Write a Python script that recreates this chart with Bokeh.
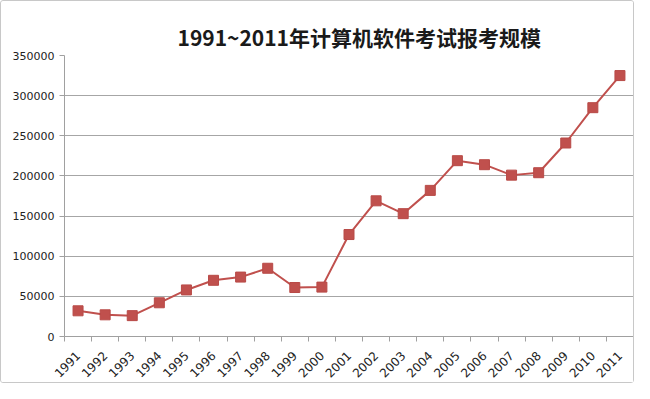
from bokeh.plotting import figure
from bokeh.models import FixedTicker, Range1d, ColumnDataSource
from bokeh.embed import file_html
from bokeh.resources import INLINE
import math

years = ["1991", "1992", "1993", "1994", "1995", "1996", "1997", "1998", "1999", "2000",
         "2001", "2002", "2003", "2004", "2005", "2006", "2007", "2008", "2009", "2010", "2011"]
counts = [32000, 27000, 26000, 42000, 58000, 70000, 74000, 85000, 61000, 61500,
          127000, 169000, 153000, 182000, 219000, 214000, 201000, 204000, 241000, 285000, 325000]
y_ticks = [0, 50000, 100000, 150000, 200000, 250000, 300000, 350000]

n = len(years)
xs = [i + 0.5 for i in range(n)]
src = ColumnDataSource(dict(x=xs, y=counts, year=years))

p = figure(width=634, height=383, output_backend="svg", toolbar_location=None,
           x_range=Range1d(0, n), y_range=Range1d(0, 350000),
           min_border_left=63, min_border_right=2, min_border_top=54, min_border_bottom=46)
p.title.text = "1991~2011年计算机软件考试报考规模"
p.title.text_font = "Noto Sans CJK SC"
p.title.text_font_size = "21px"
p.title.text_font_style = "bold"
p.title.align = "left"
p.title.offset = 113
p.title.standoff = 8
p.title.text_color = "#1a1a1a"

p.outline_line_color = None
p.background_fill_color = "white"
p.border_fill_color = "white"
p.styles = {"border": "1px solid #c8c8c8", "border-radius": "3px"}

p.line("x", "y", source=src, line_color="#C0504D", line_width=2)
p.scatter("x", "y", source=src, marker="square", size=10, fill_color="#C0504D",
          line_color="#B84A47")

# y axis
p.yaxis.ticker = FixedTicker(ticks=y_ticks)
p.yaxis.formatter.use_scientific = False
p.yaxis.axis_line_color = "#a0a0a0"
p.yaxis.major_tick_line_color = "#a0a0a0"
p.yaxis.major_tick_in = 0
p.yaxis.major_tick_out = 5
p.yaxis.minor_tick_line_color = None
p.yaxis.major_label_text_font = "DejaVu Sans"
p.yaxis.major_label_text_font_size = "11px"
p.yaxis.major_label_text_color = "#222222"
p.yaxis.major_label_standoff = 5

p.ygrid.ticker = FixedTicker(ticks=y_ticks)
p.ygrid.grid_line_color = "#a6a6a6"
p.xgrid.grid_line_color = None

# x axis: labels at centers, ticks at category boundaries
p.xaxis.ticker = FixedTicker(ticks=xs, minor_ticks=list(range(n + 1)))
p.xaxis.major_label_overrides = {x: y for x, y in zip(xs, years)}
p.xaxis.major_tick_line_color = None
p.xaxis.major_tick_out = 0
p.xaxis.major_tick_in = 0
p.xaxis.minor_tick_line_color = "#a0a0a0"
p.xaxis.minor_tick_in = 0
p.xaxis.minor_tick_out = 5
p.xaxis.axis_line_color = "#a0a0a0"
p.xaxis.major_label_orientation = math.pi / 4
p.xaxis.major_label_text_font = "DejaVu Sans"
p.xaxis.major_label_text_font_size = "12px"
p.xaxis.major_label_text_color = "#222222"
p.xaxis.major_label_standoff = 12

open("out.html", "w").write(file_html(p, INLINE))
